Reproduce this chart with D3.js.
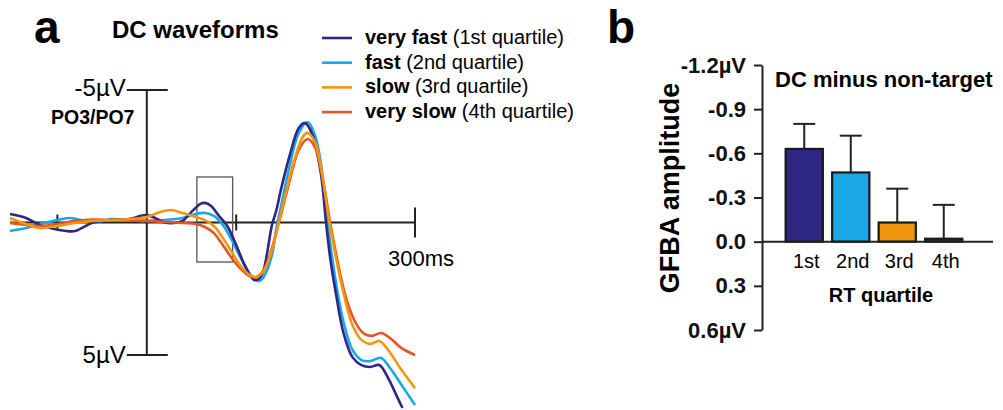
<!DOCTYPE html>
<html>
<head>
<meta charset="utf-8">
<script src="https://cdn.jsdelivr.net/npm/d3@7"></script>
<style>
  body { margin: 0; background: #fff; }
  svg { display: block; font-family: "Liberation Sans", Arial, sans-serif; }
</style>
</head>
<body>
<svg id="chart" width="1003" height="410"></svg>
<script>
// ---- panel a: DC waveforms, [time ms, amplitude uV] (negative plotted up) ----
var veryFast = [[-153,-0.32],[-135,-0.17],[-120,0.09],[-90,0.32],[-80,0.32],[-60,0],[-40,-0.09],[-20,-0.13],[0,-0.28],
  [20,0],[30,0.02],[40,-0.06],[50,-0.4],[60,-0.7],[65,-0.74],[72,-0.62],[80,-0.28],[90,0.13],[100,0.85],[110,1.64],
  [120,2.17],[125,2.13],[130,1.87],[140,0.1],[145,-0.47],[150,-1.23],[160,-2.55],[170,-3.57],[177,-3.75],[185,-3.34],
  [195,-1.79],[200,-0.17],[205,1.3],[212,2.77],[220,4.17],[230,5.08],[240,5.38],[250,5.45],[260,5.38],[270,5.87],
  [280,6.58],[286,7.0]];
var fast = [[-153,0.32],[-135,0.21],[-120,0.06],[-100,-0.09],[-85,-0.17],[-70,-0.06],[-55,-0.02],[-40,-0.13],[-20,-0.09],
  [0,-0.06],[20,-0.09],[40,-0.17],[55,-0.32],[65,-0.36],[75,-0.25],[85,0.09],[95,0.66],[105,1.34],[115,1.94],[125,2.21],
  [130,2.09],[140,1.23],[145,0.2],[150,-0.58],[160,-2.17],[170,-3.38],[180,-3.79],[188,-3.3],[195,-2.17],[200,-0.66],
  [205,0.74],[212,2.36],[220,3.75],[230,4.81],[240,5.19],[250,5.23],[262,5.11],[272,5.49],[285,6.13],[300,6.89]];
var slow = [[-153,-0.17],[-135,0.06],[-120,0.21],[-100,0.13],[-80,0.02],[-60,-0.06],[-40,-0.09],[-20,-0.13],[0,-0.21],
  [15,-0.4],[27,-0.47],[40,-0.36],[55,-0.21],[65,-0.09],[75,0.13],[85,0.58],[95,1.11],[105,1.64],[115,1.98],[122,2.06],
  [130,1.87],[140,1.04],[147,0.09],[155,-1.04],[165,-2.36],[175,-3.26],[180,-3.38],[188,-3.04],[195,-2.06],[203,-0.28],
  [210,1.04],[220,2.66],[230,3.87],[240,4.43],[250,4.58],[260,4.47],[270,4.81],[285,5.57],[300,6.25]];
var verySlow = [[-153,0.02],[-135,0.09],[-120,0.13],[-100,0.06],[-80,-0.06],[-60,-0.11],[-40,-0.09],[-20,-0.08],[0,-0.06],
  [20,-0.02],[40,0.02],[55,0.06],[65,0.17],[75,0.4],[85,0.85],[95,1.34],[105,1.75],[115,2.02],[123,2.06],[132,1.72],
  [140,0.96],[150,-0.28],[160,-1.6],[170,-2.74],[180,-3.15],[188,-2.85],[197,-1.6],[205,-0.02],[212,1.23],[222,2.74],
  [232,3.68],[242,4.17],[252,4.28],[262,4.17],[272,4.36],[285,4.74],[300,5.0]];

var seriesNames = ["very fast", "fast", "slow", "very slow"];
var seriesNotes = ["(1st quartile)", "(2nd quartile)", "(3rd quartile)", "(4th quartile)"];
var seriesColors = ["#2e2784", "#1aa7e6", "#f3960f", "#ea5326"];
var timeTicks = [-100, 100, 300];

// ---- panel b: GFBA amplitude by RT quartile ----
var quartiles = ["1st", "2nd", "3rd", "4th"];
var gfbaMean = [-0.63, -0.47, -0.13, -0.02];
var gfbaErr = [0.17, 0.25, 0.23, 0.23];
var gfbaTicks = [-1.2, -0.9, -0.6, -0.3, 0, 0.3, 0.6];
var gfbaTickLabels = ["-1.2µV", "-0.9", "-0.6", "-0.3", "0.0", "0.3", "0.6µV"];

var svg = d3.select("#chart");
svg.append("rect").attr("width", 1003).attr("height", 410).attr("fill", "#fff");

// ================= panel a =================
var x = d3.scaleLinear().domain([-153, 300]).range([10, 415]);
var y = d3.scaleLinear().domain([-5, 5]).range([90, 355]);

var ga = svg.append("g");

// panel letter + title
ga.append("text").attr("x", 34).attr("y", 43).attr("font-size", 46).attr("font-weight", "bold").text("a");
ga.append("text").attr("x", 112).attr("y", 38).attr("font-size", 24).attr("font-weight", "bold").text("DC waveforms");

// axes
ga.append("line").attr("x1", x(-153)).attr("x2", x(300)).attr("y1", y(0)).attr("y2", y(0))
  .attr("stroke", "#222").attr("stroke-width", 2);
ga.append("line").attr("x1", x(0)).attr("x2", x(0)).attr("y1", y(-5)).attr("y2", y(5))
  .attr("stroke", "#222").attr("stroke-width", 2);
[-5, 5].forEach(function(v) {
    ga.append("line").attr("x1", x(0) - 20).attr("x2", x(0) + 21).attr("y1", y(v)).attr("y2", y(v))
      .attr("stroke", "#222").attr("stroke-width", 2);
});
timeTicks.forEach(function(t) {
    var h = t === 300 ? 15 : 8;
    ga.append("line").attr("x1", x(t)).attr("x2", x(t)).attr("y1", y(0) - h).attr("y2", y(0) + h)
      .attr("stroke", "#222").attr("stroke-width", 2);
});
ga.append("text").attr("x", x(0) - 21).attr("y", y(-5) + 6).attr("text-anchor", "end")
  .attr("font-size", 24).text("-5µV");
ga.append("text").attr("x", x(0) - 21).attr("y", y(5) + 8).attr("text-anchor", "end")
  .attr("font-size", 24).text("5µV");
ga.append("text").attr("x", 51).attr("y", 124).attr("font-size", 19.5).attr("font-weight", "bold").text("PO3/PO7");
ga.append("text").attr("x", 388).attr("y", 266).attr("font-size", 22).text("300ms");

// highlight box
ga.append("rect").attr("x", x(56)).attr("y", 177).attr("width", x(96) - x(56)).attr("height", 85)
  .attr("fill", "none").attr("stroke", "#555").attr("stroke-width", 1.3);

// waveforms
var line = d3.line()
    .x(function(d) { return x(d[0]); })
    .y(function(d) { return y(d[1]); })
    .curve(d3.curveCatmullRom.alpha(0.5));
var waves = [veryFast, fast, slow, verySlow];
// drawing order: orange ends up on top near the baseline, like the reference
[1, 0, 3, 2].forEach(function(i) {
    ga.append("path").attr("d", line(waves[i])).attr("fill", "none")
      .attr("stroke", seriesColors[i]).attr("stroke-width", 2.6).attr("stroke-linejoin", "round");
});

// legend
var legend = ga.append("g");
seriesNames.forEach(function(n, i) {
    var ly = 38 + i * 24.7;
    legend.append("line").attr("x1", 322).attr("x2", 352).attr("y1", ly).attr("y2", ly)
      .attr("stroke", seriesColors[i]).attr("stroke-width", 2.6);
    var t = legend.append("text").attr("x", 365).attr("y", ly + 6).attr("font-size", 20);
    t.append("tspan").attr("font-weight", "bold").text(n);
    t.append("tspan").text(" " + seriesNotes[i]);
});

// ================= panel b =================
var gb = svg.append("g");
var yb = d3.scaleLinear().domain([-1.2, 0.6]).range([65, 330]);
var xb = d3.scaleBand().domain(quartiles).range([781, 967]).paddingInner(0.2).paddingOuter(0.1);

gb.append("text").attr("x", 607).attr("y", 43).attr("font-size", 46).attr("font-weight", "bold").text("b");

var yAxis = d3.axisLeft(yb).tickValues(gfbaTicks).tickSize(8).tickSizeOuter(0).tickPadding(8)
    .tickFormat(function(d, i) { return gfbaTickLabels[i]; });
var ya = gb.append("g").attr("transform", "translate(762,0)").call(yAxis);
ya.select(".domain").attr("stroke", "#222").attr("stroke-width", 2);
ya.selectAll(".tick line").attr("stroke", "#222").attr("stroke-width", 2);
ya.selectAll(".tick text").attr("font-size", 22).attr("font-weight", "bold").attr("fill", "#111")
  .attr("font-family", "Liberation Sans, Arial, sans-serif");

gb.append("text").attr("transform", "translate(679,188) rotate(-90)").attr("text-anchor", "middle")
  .attr("font-size", 27).attr("font-weight", "bold").text("GFBA amplitude");
gb.append("text").attr("x", 775).attr("y", 87).attr("font-size", 22).attr("font-weight", "bold")
  .text("DC minus non-target");

// error bars (drawn first, bars cover the lower part)
quartiles.forEach(function(q, i) {
    var cx = xb(q) + xb.bandwidth() / 2;
    var top = gfbaMean[i] - gfbaErr[i];
    gb.append("line").attr("x1", cx).attr("x2", cx).attr("y1", yb(gfbaMean[i])).attr("y2", yb(top))
      .attr("stroke", "#222").attr("stroke-width", 2);
    gb.append("line").attr("x1", cx - 11).attr("x2", cx + 11).attr("y1", yb(top)).attr("y2", yb(top))
      .attr("stroke", "#222").attr("stroke-width", 2);
});

gb.selectAll("rect.bar").data(quartiles).enter().append("rect")
  .attr("class", "bar")
  .attr("x", function(d) { return xb(d); })
  .attr("width", xb.bandwidth())
  .attr("y", function(d, i) { return yb(gfbaMean[i]); })
  .attr("height", function(d, i) { return yb(0) - yb(gfbaMean[i]); })
  .attr("fill", function(d, i) { return i === 3 ? "#333" : seriesColors[i]; })
  .attr("stroke", "#1a1a1a").attr("stroke-width", 2.2);

// x axis line (zero)
gb.append("line").attr("x1", 762).attr("x2", 993).attr("y1", yb(0)).attr("y2", yb(0))
  .attr("stroke", "#222").attr("stroke-width", 2);

quartiles.forEach(function(q) {
    gb.append("text").attr("x", xb(q) + xb.bandwidth() / 2 + 2).attr("y", 268).attr("text-anchor", "middle")
      .attr("font-size", 20).text(q);
});
gb.append("text").attr("x", 881).attr("y", 302).attr("text-anchor", "middle").attr("font-size", 20)
  .attr("font-weight", "bold").text("RT quartile");
</script>
</body>
</html>
